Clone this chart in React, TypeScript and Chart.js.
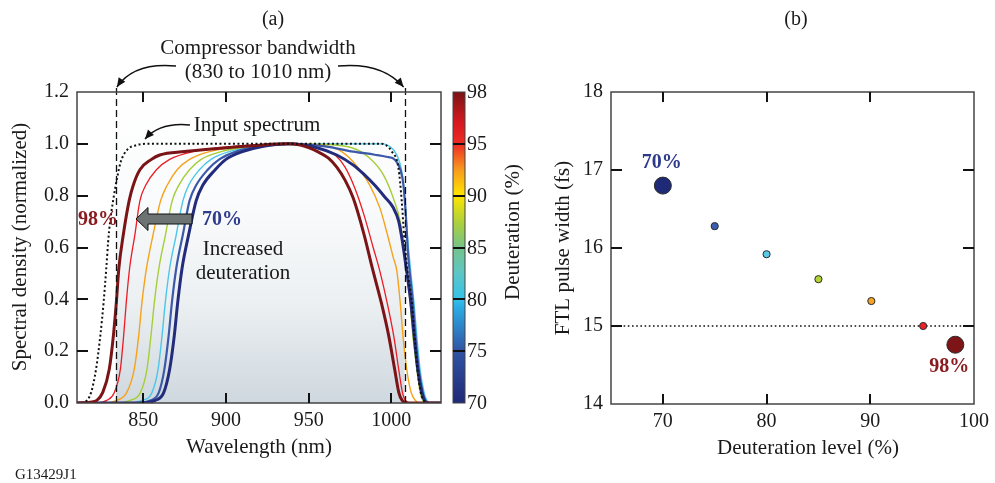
import React, { useEffect, useRef } from 'react';
import { Chart, registerables } from 'chart.js';
Chart.register(...registerables);

const SERIF = '"Liberation Serif", "Times New Roman", serif';
const INK = '#1a1a1a';

// ---------------- Panel (a): spectra ----------------
const wlIn = [810, 812, 816, 818.5, 821.5, 824.1, 826.1, 827.7, 828.8, 830, 831.8, 834.2, 836.4, 840.2, 846, 852, 994, 1000.3, 1004.3, 1006.3, 1007.7, 1009.5, 1012.4, 1014, 1015.8, 1017.8, 1019.5, 1021, 1030];
const sIn = [0, 0, 0.01, 0.04, 0.13, 0.26, 0.39, 0.52, 0.62, 0.7, 0.78, 0.867, 0.93, 0.976, 0.995, 1.0, 1.0, 0.97, 0.906, 0.777, 0.648, 0.52, 0.386, 0.256, 0.127, 0.04, 0.01, 0, 0];

const wl98 = [810, 818, 822, 825.5, 829.5, 832, 833.8, 835.3, 838, 841.5, 844, 848, 855, 860, 875, 895, 920, 937, 945, 950, 956, 962, 967, 972, 977, 983.5, 988.5, 994, 998.5, 1002, 1004.5, 1006.5, 1010, 1030];
const s98 = [0, 0.003, 0.01, 0.04, 0.13, 0.26, 0.39, 0.52, 0.65, 0.78, 0.84, 0.9, 0.94, 0.957, 0.97, 0.982, 0.995, 1.0, 0.995, 0.985, 0.968, 0.945, 0.91, 0.86, 0.79, 0.65, 0.52, 0.385, 0.256, 0.13, 0.04, 0.01, 0, 0];

const wl95 = [810, 822, 828, 832.5, 836.2, 838.2, 839.8, 841.8, 845, 848, 851.5, 858, 866, 880, 905, 935, 950, 958, 966, 972, 978, 983.5, 989, 993, 997.5, 1001.5, 1004.5, 1006.7, 1008.5, 1012, 1030];
const s95 = [0, 0, 0.01, 0.04, 0.13, 0.26, 0.39, 0.52, 0.65, 0.78, 0.84, 0.9, 0.94, 0.97, 0.99, 1.0, 0.995, 0.98, 0.957, 0.91, 0.828, 0.725, 0.6, 0.51, 0.385, 0.256, 0.127, 0.04, 0.01, 0, 0];

const wl90 = [810, 826, 834, 840, 844.6, 847.3, 849.3, 852, 856, 860.5, 864.5, 870.5, 878, 890, 910, 935, 945, 962, 970, 977, 987, 993.2, 997.2, 1001.2, 1003.3, 1005.3, 1007, 1009.3, 1012, 1014.5, 1017, 1030];
const s90 = [0, 0, 0.01, 0.04, 0.13, 0.26, 0.39, 0.52, 0.65, 0.78, 0.84, 0.9, 0.94, 0.97, 0.99, 1.0, 1.0, 0.99, 0.97, 0.93, 0.84, 0.75, 0.66, 0.56, 0.51, 0.39, 0.26, 0.13, 0.04, 0.01, 0, 0];

const wl85 = [810, 834, 842, 848.3, 852.3, 854.7, 856.8, 859.5, 863.5, 867.5, 871.5, 878, 885, 897, 915, 937, 957, 977, 987, 995.2, 1001.2, 1005.3, 1007.3, 1009.2, 1011.3, 1013, 1015.4, 1017.4, 1019, 1021, 1030];
const s85 = [0, 0, 0.01, 0.04, 0.13, 0.26, 0.39, 0.52, 0.65, 0.78, 0.84, 0.9, 0.94, 0.97, 0.99, 1.0, 0.998, 0.983, 0.944, 0.88, 0.79, 0.7, 0.61, 0.51, 0.39, 0.26, 0.13, 0.04, 0.01, 0, 0];

const wl80 = [810, 840, 849.3, 855.3, 859, 861.4, 863.4, 866, 870, 874, 877.5, 884, 891, 902, 918, 938, 995, 999, 1003.3, 1006.3, 1008.3, 1009.7, 1011.5, 1013.7, 1015.4, 1017.4, 1019.8, 1021.5, 1024, 1030];
const s80 = [0, 0, 0.01, 0.04, 0.13, 0.26, 0.39, 0.52, 0.65, 0.78, 0.84, 0.9, 0.94, 0.97, 0.99, 1.0, 1.0, 0.99, 0.957, 0.893, 0.777, 0.648, 0.52, 0.386, 0.256, 0.127, 0.04, 0.01, 0, 0];

const wl75 = [810, 845, 854.3, 859.4, 862.8, 865.4, 867.4, 870, 874, 878, 882, 889, 896, 906, 920, 940, 960, 977, 990, 997, 1002.3, 1005.5, 1007.3, 1008.9, 1010, 1011, 1013, 1014.6, 1016.6, 1019, 1020.5, 1023, 1030];
const s75 = [0, 0, 0.01, 0.04, 0.13, 0.26, 0.39, 0.52, 0.65, 0.78, 0.84, 0.9, 0.94, 0.97, 0.99, 1.0, 0.99, 0.97, 0.958, 0.95, 0.938, 0.9, 0.841, 0.71, 0.58, 0.51, 0.386, 0.256, 0.127, 0.04, 0.01, 0, 0];

const wl70 = [810, 848, 857.3, 862.4, 866, 868.8, 870.9, 873.5, 877.5, 882, 886, 893.5, 900, 910, 922, 938, 955, 967, 977, 983, 990, 996, 1001, 1004.5, 1007, 1009, 1011.8, 1013.8, 1016, 1018.4, 1020, 1022, 1030];
const s70 = [0, 0, 0.01, 0.04, 0.13, 0.26, 0.39, 0.52, 0.65, 0.78, 0.84, 0.9, 0.94, 0.97, 0.99, 1.0, 0.985, 0.957, 0.918, 0.885, 0.84, 0.795, 0.755, 0.7, 0.61, 0.52, 0.386, 0.256, 0.127, 0.04, 0.01, 0, 0];

const bandNm = [833.5, 1008];
const xTicksA = [850, 900, 950, 1000];
const yTicksA = [0, 0.2, 0.4, 0.6, 0.8, 1.0, 1.2];
const cbLabels = ['70', '75', '80', '85', '90', '95', '98'];

// ---------------- Panel (b): FTL pulse width ----------------
const deut = [70, 75, 80, 85, 90.1, 95.1, 98.2];
const ftl = [16.8, 16.28, 15.92, 15.6, 15.32, 15.0, 14.76];
const ftlRef = 15;
const xTicksB = [70, 80, 90, 100];
const yTicksB = [14, 15, 16, 17, 18];

const ptColors = ['#1f2a77', '#3a5fb0', '#5bc8e8', '#b4d334', '#f7a326', '#ed2227', '#7d1518'];
const ptRadius = [8.5, 3.6, 3.6, 3.6, 3.6, 3.6, 8.5];

function text(ctx: any, s: string, x: number, y: number, o: any = {}) {
  ctx.save();
  ctx.font = `${o.weight || 'normal'} ${o.size || 21}px ${SERIF}`;
  ctx.fillStyle = o.color || INK;
  ctx.textAlign = o.align || 'center';
  ctx.textBaseline = 'middle';
  ctx.translate(x, y);
  if (o.rot) ctx.rotate(o.rot);
  ctx.fillText(s, 0, 0);
  ctx.restore();
}

function frameTicks(chart: any, xin: number[], yin: number[]) {
  const { ctx, chartArea: a, scales } = chart;
  ctx.save();
  ctx.strokeStyle = '#444';
  ctx.lineWidth = 1.5;
  ctx.strokeRect(a.left, a.top, a.right - a.left, a.bottom - a.top);
  ctx.strokeStyle = '#111';
  ctx.lineWidth = 2;
  ctx.beginPath();
  xin.forEach((v) => {
    const p = Math.round(scales.x.getPixelForValue(v));
    ctx.moveTo(p, a.bottom); ctx.lineTo(p, a.bottom - 10);
    ctx.moveTo(p, a.top); ctx.lineTo(p, a.top + 10);
  });
  yin.forEach((v) => {
    const p = Math.round(scales.y.getPixelForValue(v));
    ctx.moveTo(a.left, p); ctx.lineTo(a.left + 11, p);
    ctx.moveTo(a.right, p); ctx.lineTo(a.right - 11, p);
  });
  ctx.stroke();
  ctx.restore();
}

function arrowHead(ctx: any, fx: number, fy: number, tx: number, ty: number, len = 9, half = 4) {
  const dx = tx - fx, dy = ty - fy;
  const d = Math.hypot(dx, dy);
  const ux = dx / d, uy = dy / d;
  ctx.beginPath();
  ctx.moveTo(tx, ty);
  ctx.lineTo(tx - ux * len - uy * half, ty - uy * len + ux * half);
  ctx.lineTo(tx - ux * len + uy * half, ty - uy * len - ux * half);
  ctx.closePath();
  ctx.fill();
}

function curveArrow(ctx: any, sx: number, sy: number, cx: number, cy: number, ex: number, ey: number) {
  ctx.save();
  ctx.strokeStyle = '#111';
  ctx.fillStyle = '#111';
  ctx.lineWidth = 1.4;
  ctx.beginPath();
  ctx.moveTo(sx, sy);
  ctx.quadraticCurveTo(cx, cy, ex, ey);
  ctx.stroke();
  arrowHead(ctx, cx, cy, ex, ey);
  ctx.restore();
}

const panelA = {
  id: 'panelA',
  beforeDatasetsDraw(chart: any) {
    const { ctx, chartArea: a, scales } = chart;
    const x0 = scales.x.getPixelForValue(bandNm[0]);
    const x1 = scales.x.getPixelForValue(bandNm[1]);
    const g = ctx.createLinearGradient(0, a.top, 0, a.bottom);
    g.addColorStop(0, '#ffffff');
    g.addColorStop(0.35, '#fafbfc');
    g.addColorStop(0.67, '#ecf0f2');
    g.addColorStop(1, '#cfd8df');
    ctx.save();
    ctx.fillStyle = g;
    ctx.fillRect(x0, a.top, x1 - x0, a.bottom - a.top);
    ctx.restore();
  },
  afterDraw(chart: any) {
    const { ctx, chartArea: a, scales } = chart;
    // dashed compressor band
    ctx.save();
    ctx.strokeStyle = '#111';
    ctx.lineWidth = 1.3;
    ctx.setLineDash([7, 4]);
    bandNm.forEach((v) => {
      const p = Math.round(scales.x.getPixelForValue(v)) + 0.5;
      ctx.beginPath();
      ctx.moveTo(p, a.top - 4);
      ctx.lineTo(p, a.bottom);
      ctx.stroke();
    });
    ctx.restore();
    frameTicks(chart, xTicksA, [0.2, 0.4, 0.6, 0.8, 1.0]);

    // colorbar
    const cbL = a.right + 12, cbW = 12, h = a.bottom - a.top;
    const g = ctx.createLinearGradient(0, a.bottom, 0, a.top);
    g.addColorStop(0, '#1f2a78');
    g.addColorStop(1 / 6, '#3153a3');
    g.addColorStop(0.31, '#2aaee3');
    g.addColorStop(2 / 6, '#35c1ea');
    g.addColorStop(0.42, '#5ec6c4');
    g.addColorStop(0.5, '#74c38a');
    g.addColorStop(0.58, '#acd03c');
    g.addColorStop(4 / 6, '#ffe600');
    g.addColorStop(0.75, '#f79a1d');
    g.addColorStop(5 / 6, '#ee2b24');
    g.addColorStop(0.9, '#d8181f');
    g.addColorStop(1, '#7a1416');
    ctx.save();
    ctx.fillStyle = g;
    ctx.fillRect(cbL, a.top, cbW, h);
    ctx.strokeStyle = '#444';
    ctx.lineWidth = 1;
    ctx.strokeRect(cbL, a.top, cbW, h);
    ctx.strokeStyle = '#111';
    ctx.lineWidth = 2;
    cbLabels.forEach((lab, i) => {
      const py = a.bottom - (i * h) / (cbLabels.length - 1);
      if (i > 0 && i < cbLabels.length - 1) {
        ctx.beginPath();
        ctx.moveTo(cbL, Math.round(py));
        ctx.lineTo(cbL + cbW, Math.round(py));
        ctx.stroke();
      }
      text(ctx, lab, cbL + cbW + 2, py + 1, { size: 20, align: 'left' });
    });
    ctx.restore();
    text(ctx, 'Deuteration (%)', cbL + 60, 232, { rot: -Math.PI / 2 });

    // titles & axis titles
    text(ctx, '(a)', 273, 20, { size: 20 });
    text(ctx, 'Compressor bandwidth', 258, 48);
    text(ctx, '(830 to 1010 nm)', 258, 72);
    text(ctx, 'Spectral density (normalized)', 20, 247, { rot: -Math.PI / 2 });
    text(ctx, 'Wavelength (nm)', 259, 447);
    text(ctx, 'G13429J1', 15, 475, { size: 15, align: 'left' });

    const xl = scales.x.getPixelForValue(bandNm[0]);
    const xr = scales.x.getPixelForValue(bandNm[1]);
    curveArrow(ctx, 176, 66, 134, 62, xl + 1, a.top - 5);
    curveArrow(ctx, 338, 66, 382, 62, xr - 1, a.top - 5);

    // input spectrum annotation
    text(ctx, 'Input spectrum', 257, 125);
    curveArrow(ctx, 190, 125, 160, 122, 145, 139);

    // block arrow
    ctx.save();
    ctx.fillStyle = '#6d7272';
    ctx.strokeStyle = '#111';
    ctx.lineWidth = 1;
    ctx.beginPath();
    ctx.moveTo(136, 219);
    ctx.lineTo(148, 207.5);
    ctx.lineTo(148, 214);
    ctx.lineTo(192, 214);
    ctx.lineTo(192, 224);
    ctx.lineTo(148, 224);
    ctx.lineTo(148, 230.5);
    ctx.closePath();
    ctx.fill();
    ctx.stroke();
    ctx.restore();

    text(ctx, '98%', 98, 220, { size: 20, weight: 'bold', color: '#8b1a1f' });
    text(ctx, '70%', 222, 220, { size: 20, weight: 'bold', color: '#2e3a8c' });
    text(ctx, 'Increased', 243, 249);
    text(ctx, 'deuteration', 243, 273);
  },
};

const panelB = {
  id: 'panelB',
  afterDraw(chart: any) {
    const { ctx, scales } = chart;
    frameTicks(chart, [70, 80, 90], [15, 16, 17]);
    const i0 = 0, i1 = deut.length - 1;
    text(ctx, '70%', scales.x.getPixelForValue(deut[i0]) - 1, scales.y.getPixelForValue(ftl[i0]) - 23, { size: 20, weight: 'bold', color: '#2e3a8c' });
    text(ctx, '98%', scales.x.getPixelForValue(deut[i1]) - 6, scales.y.getPixelForValue(ftl[i1]) + 22, { size: 20, weight: 'bold', color: '#8b1a1f' });
    text(ctx, '(b)', 256, 20, { size: 20 });
    text(ctx, 'FTL pulse width (fs)', 23, 248, { rot: -Math.PI / 2 });
    text(ctx, 'Deuteration level (%)', 268, 448);
  },
};

const tickFont = { family: SERIF, size: 20 };

function buildA(canvas: HTMLCanvasElement) {
  const series = [
    { wl: wlIn, s: sIn, color: '#111111', w: 2, dash: [2, 2.5] },
    { wl: wl98, s: s98, color: '#7b1416', w: 3 },
    { wl: wl70, s: s70, color: '#232c7c', w: 3 },
    { wl: wl75, s: s75, color: '#3b59a8', w: 2.2 },
    { wl: wl95, s: s95, color: '#ec1c24', w: 1.3 },
    { wl: wl90, s: s90, color: '#f7a21b', w: 1.4 },
    { wl: wl85, s: s85, color: '#a6ce39', w: 1.4 },
    { wl: wl80, s: s80, color: '#4cc6ea', w: 1.4 },
  ];
  return new Chart(canvas, {
    type: 'line',
    data: {
      datasets: series.map((c) => ({
        data: c.wl.map((x, i) => ({ x, y: c.s[i] })),
        borderColor: c.color,
        borderWidth: c.w,
        borderDash: c.dash || [],
        pointRadius: 0,
        cubicInterpolationMode: 'monotone',
        fill: false,
      })),
    },
    options: {
      responsive: false,
      animation: false,
      devicePixelRatio: 1,
      layout: { padding: { top: 92, right: 99, left: 0, bottom: 0 } },
      plugins: { legend: { display: false }, tooltip: { enabled: false } },
      events: [],
      scales: {
        x: {
          type: 'linear', min: 810, max: 1030,
          afterBuildTicks: (s: any) => { s.ticks = xTicksA.map((v) => ({ value: v })); },
          afterFit: (s: any) => { s.height = 80; },
          grid: { display: false, drawTicks: false },
          border: { display: false },
          ticks: { font: tickFont, color: INK, padding: 6, maxRotation: 0, callback: (v: any) => String(v) },
        },
        y: {
          type: 'linear', min: 0, max: 1.2,
          afterBuildTicks: (s: any) => { s.ticks = yTicksA.map((v) => ({ value: v })); },
          afterFit: (s: any) => { s.width = 77; },
          grid: { display: false, drawTicks: false },
          border: { display: false },
          ticks: { font: tickFont, color: INK, padding: 8, callback: (v: any) => Number(v).toFixed(1) },
        },
      },
    },
    plugins: [panelA],
  } as any);
}

function buildB(canvas: HTMLCanvasElement) {
  return new Chart(canvas, {
    type: 'scatter',
    data: {
      datasets: [
        {
          data: deut.map((x, i) => ({ x, y: ftl[i] })),
          backgroundColor: ptColors,
          borderColor: '#2a2a2a',
          borderWidth: 1,
          pointRadius: ptRadius,
          order: 0,
        },
        {
          type: 'line',
          data: [{ x: 65, y: ftlRef }, { x: 100, y: ftlRef }],
          borderColor: '#111',
          borderWidth: 1.6,
          borderDash: [1.6, 2.6],
          pointRadius: 0,
          showLine: true,
          order: 1,
        },
      ],
    },
    options: {
      responsive: false,
      animation: false,
      devicePixelRatio: 1,
      layout: { padding: { top: 92, right: 15, left: 0, bottom: 0 } },
      plugins: { legend: { display: false }, tooltip: { enabled: false } },
      events: [],
      scales: {
        x: {
          type: 'linear', min: 65, max: 100,
          afterBuildTicks: (s: any) => { s.ticks = xTicksB.map((v) => ({ value: v })); },
          afterFit: (s: any) => { s.height = 79; },
          grid: { display: false, drawTicks: false },
          border: { display: false },
          ticks: { font: tickFont, color: INK, padding: 6, maxRotation: 0, callback: (v: any) => String(v) },
        },
        y: {
          type: 'linear', min: 14, max: 18,
          afterBuildTicks: (s: any) => { s.ticks = yTicksB.map((v) => ({ value: v })); },
          afterFit: (s: any) => { s.width = 71; },
          grid: { display: false, drawTicks: false },
          border: { display: false },
          ticks: { font: tickFont, color: INK, padding: 8 },
        },
      },
    },
    plugins: [panelB],
  } as any);
}

function Panel({ left, width, build }: { left: number; width: number; build: (c: HTMLCanvasElement) => Chart }) {
  const ref = useRef<HTMLCanvasElement | null>(null);
  useEffect(() => {
    if (!ref.current) return;
    const ch = build(ref.current);
    return () => ch.destroy();
  }, [build]);
  return (
    <canvas
      ref={ref}
      width={width}
      height={483}
      style={{ position: 'absolute', left, top: 0, width, height: 483 }}
    />
  );
}

export default function App() {
  return (
    <div style={{ position: 'fixed', left: 0, top: 0, width: 995, height: 483, background: '#fff', overflow: 'hidden' }}>
      <Panel left={0} width={540} build={buildA} />
      <Panel left={540} width={455} build={buildB} />
    </div>
  );
}
